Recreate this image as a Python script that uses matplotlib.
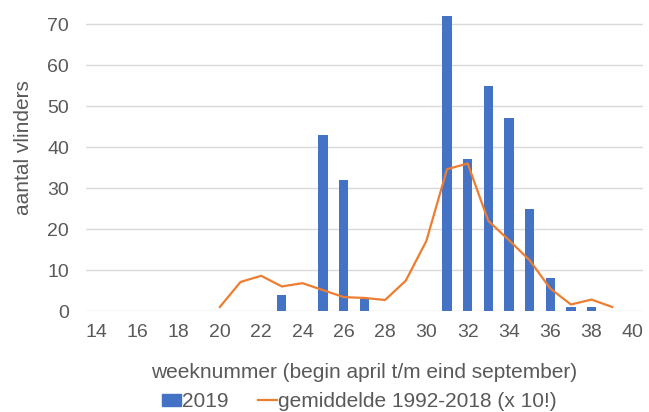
import numpy as np
import matplotlib.pyplot as plt
from matplotlib.lines import Line2D
from matplotlib.patches import Patch

# data
weeks_2019 = [23, 25, 26, 27, 31, 32, 33, 34, 35, 36, 37, 38]
count_2019 = [4, 43, 32, 3, 72, 37, 55, 47, 25, 8, 1, 1]

weeks_avg = [20, 21, 22, 23, 24, 25, 26, 27, 28, 29, 30, 31, 32, 33, 34, 35, 36, 37, 38, 39]
avg_x10 = [1.0, 7.1, 8.6, 6.0, 6.8, 5.1, 3.4, 3.2, 2.7, 7.4, 17.1, 34.6, 36.0, 22.0, 17.3, 12.4, 5.5, 1.6, 2.8, 1.0]

xticks = list(range(14, 41, 2))
yticks = list(range(0, 71, 10))

# colors
blue = "#4472C4"
orange = "#ED7D31"
grey_text = "#595959"

plt.rcParams["font.family"] = ["Liberation Sans", "DejaVu Sans"]
plt.rcParams["font.size"] = 15

fig = plt.figure(figsize=(6.49, 4.12), dpi=100)
# top of the axes lies above the picture (y max 80 is cut off, as in the reference)
ax = fig.add_axes([0.132, 0.245, 0.859, 0.796])

ax.bar(weeks_2019, count_2019, width=0.45, color=blue, zorder=2, label="2019")
ax.plot(weeks_avg, avg_x10, color=orange, linewidth=1.6, zorder=3,
        label="gemiddelde 1992-2018 (x 10!)")

ax.set_xlim(13.5, 40.5)
ax.set_ylim(0, 80)
ax.set_yticks(yticks)
ax.set_xticks(xticks)
ax.yaxis.grid(True, color="#D9D9D9", linewidth=1.0, zorder=0)
ax.set_axisbelow(True)
for s in ax.spines.values():
    s.set_visible(False)
ax.tick_params(axis="both", length=0, colors=grey_text, labelsize=14)
ax.tick_params(axis="y", pad=12)
ax.tick_params(axis="x", pad=9)

ax.set_xlabel("weeknummer (begin april t/m eind september)", color=grey_text, labelpad=16)
ax.set_ylabel("aantal vlinders", color=grey_text, labelpad=10)

handles = [Patch(color=blue), Line2D([0], [0], color=orange, linewidth=1.6)]
fig.legend(handles, ["2019", "gemiddelde 1992-2018 (x 10!)"], loc="center",
           bbox_to_anchor=(0.554, 0.025), ncol=2, frameon=False,
           handlelength=0.93, handleheight=0.55, handletextpad=0.05,
           columnspacing=1.4, labelcolor=grey_text, fontsize=15)

fig.savefig("out.png", dpi=100)
